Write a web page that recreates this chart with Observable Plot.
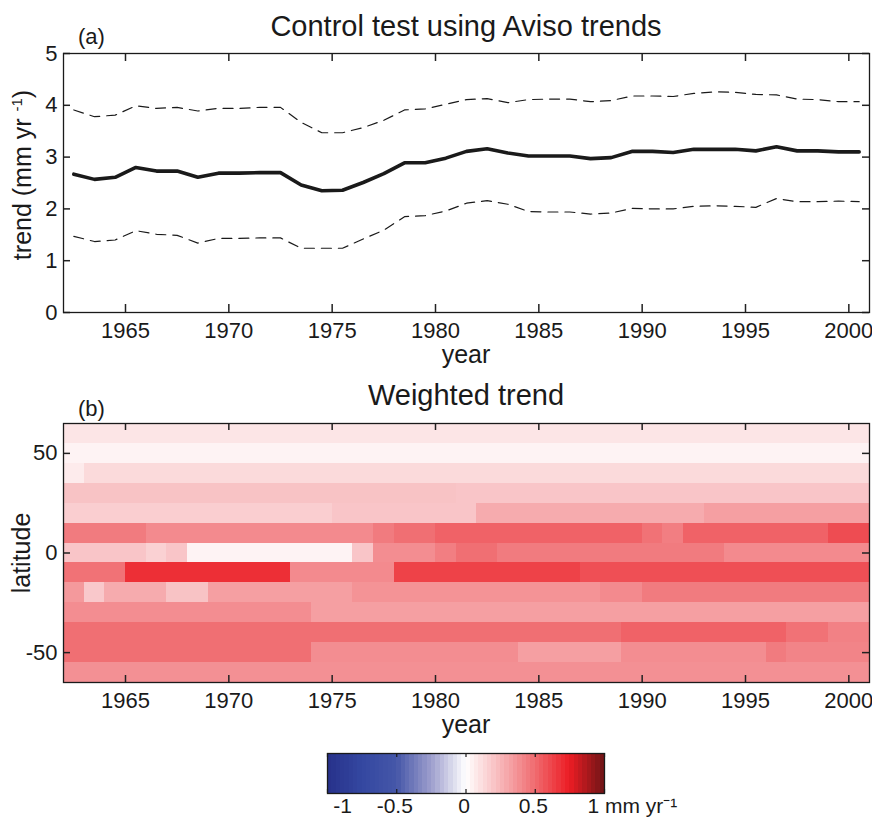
<!DOCTYPE html>
<html>
<head>
<meta charset="utf-8">
<script src="https://cdn.jsdelivr.net/npm/d3@7"></script>
<script src="https://cdn.jsdelivr.net/npm/@observablehq/plot@0.6"></script>
<style>
html, body { margin: 0; padding: 0; background: #fff; }
#root { position: relative; width: 872px; height: 818px; overflow: hidden; font-family: "Liberation Sans", Arial, Helvetica, sans-serif; }
#root svg { position: absolute; left: 0; }
</style>
</head>
<body>
<div id="root"></div>
<script>
// ---------------- DATA ----------------
const years = [1962,1963,1964,1965,1966,1967,1968,1969,1970,1971,
               1972,1973,1974,1975,1976,1977,1978,1979,1980,1981,
               1982,1983,1984,1985,1986,1987,1988,1989,1990,1991,
               1992,1993,1994,1995,1996,1997,1998,1999,2000];

// panel (a): trend (mm/yr) for each year, plus upper/lower bounds
const trendMean = [2.67,2.57,2.61,2.80,2.73,2.73,2.61,2.69,2.69,2.70,
                   2.70,2.46,2.35,2.36,2.51,2.68,2.89,2.89,2.98,3.11,
                   3.16,3.08,3.02,3.02,3.02,2.97,2.99,3.11,3.11,3.09,
                   3.15,3.15,3.15,3.12,3.20,3.12,3.12,3.10,3.10];
const trendUpper = [3.91,3.78,3.81,3.99,3.94,3.96,3.89,3.94,3.94,3.96,
                    3.96,3.67,3.47,3.47,3.57,3.71,3.91,3.93,4.02,4.11,
                    4.13,4.05,4.11,4.12,4.12,4.07,4.09,4.18,4.18,4.17,
                    4.23,4.26,4.25,4.21,4.20,4.12,4.11,4.07,4.07];
const trendLower = [1.47,1.37,1.40,1.58,1.51,1.49,1.34,1.43,1.43,1.44,
                    1.44,1.24,1.24,1.24,1.42,1.59,1.85,1.87,1.96,2.11,
                    2.16,2.09,1.95,1.94,1.94,1.90,1.92,2.01,2.00,2.00,
                    2.05,2.06,2.05,2.03,2.20,2.14,2.14,2.15,2.14];

// panel (b): weighted trend by 10-degree latitude band (mm/yr)
const latitudes = [60,50,40,30,20,10,0,-10,-20,-30,-40,-50,-60];
const lat60 = [0.09,0.09,0.09,0.09,0.09,0.09,0.09,0.09,0.09,0.09,
               0.09,0.09,0.09,0.09,0.09,0.09,0.09,0.09,0.09,0.09,
               0.09,0.09,0.09,0.09,0.09,0.09,0.09,0.09,0.09,0.09,
               0.09,0.09,0.09,0.09,0.09,0.09,0.09,0.09,0.09];
const lat50 = [0.04,0.04,0.04,0.04,0.04,0.04,0.04,0.04,0.04,0.04,
               0.04,0.04,0.04,0.04,0.04,0.04,0.04,0.04,0.04,0.04,
               0.04,0.04,0.04,0.04,0.04,0.04,0.04,0.04,0.04,0.04,
               0.04,0.04,0.04,0.04,0.04,0.04,0.04,0.04,0.04];
const lat40 = [0.07,0.13,0.13,0.13,0.13,0.13,0.13,0.13,0.13,0.13,
               0.13,0.13,0.13,0.13,0.13,0.13,0.13,0.13,0.13,0.13,
               0.13,0.13,0.13,0.13,0.13,0.13,0.13,0.13,0.13,0.13,
               0.13,0.13,0.13,0.13,0.13,0.13,0.13,0.13,0.13];
const lat30 = [0.21,0.21,0.21,0.21,0.21,0.21,0.21,0.21,0.21,0.21,
               0.21,0.21,0.21,0.21,0.21,0.21,0.21,0.21,0.21,0.20,
               0.20,0.20,0.20,0.20,0.20,0.20,0.20,0.20,0.20,0.20,
               0.20,0.20,0.20,0.20,0.20,0.20,0.20,0.20,0.20];
const lat20 = [0.17,0.17,0.17,0.17,0.17,0.17,0.17,0.17,0.17,0.17,
               0.17,0.17,0.17,0.20,0.20,0.20,0.20,0.20,0.20,0.20,
               0.29,0.29,0.29,0.29,0.29,0.29,0.29,0.29,0.29,0.29,
               0.29,0.33,0.33,0.33,0.33,0.33,0.33,0.33,0.33];
const lat10 = [0.45,0.45,0.45,0.45,0.40,0.40,0.40,0.40,0.40,0.40,
               0.40,0.40,0.40,0.40,0.40,0.45,0.49,0.49,0.53,0.53,
               0.53,0.53,0.53,0.53,0.53,0.53,0.53,0.53,0.48,0.44,
               0.53,0.53,0.53,0.53,0.53,0.53,0.53,0.60,0.60];
const lat0  = [0.20,0.20,0.20,0.20,0.16,0.20,0.04,0.04,0.04,0.04,
               0.04,0.04,0.04,0.04,0.20,0.39,0.39,0.39,0.44,0.49,
               0.49,0.45,0.45,0.45,0.45,0.45,0.45,0.45,0.45,0.45,
               0.45,0.45,0.40,0.40,0.40,0.40,0.40,0.40,0.40];
const latS10 = [0.48,0.48,0.48,0.69,0.69,0.69,0.69,0.69,0.69,0.69,
                0.69,0.40,0.40,0.40,0.40,0.40,0.63,0.63,0.63,0.63,
                0.63,0.63,0.63,0.63,0.63,0.59,0.59,0.59,0.59,0.59,
                0.59,0.59,0.59,0.59,0.59,0.59,0.59,0.59,0.59];
const latS20 = [0.35,0.19,0.29,0.29,0.29,0.21,0.21,0.33,0.33,0.33,
                0.33,0.33,0.33,0.33,0.37,0.37,0.37,0.37,0.37,0.37,
                0.37,0.37,0.37,0.37,0.37,0.37,0.40,0.40,0.45,0.45,
                0.45,0.45,0.45,0.45,0.45,0.45,0.45,0.45,0.45];
const latS30 = [0.39,0.39,0.39,0.39,0.39,0.39,0.39,0.39,0.39,0.39,
                0.39,0.39,0.33,0.33,0.33,0.33,0.33,0.33,0.33,0.33,
                0.33,0.33,0.33,0.33,0.33,0.33,0.33,0.33,0.33,0.33,
                0.33,0.33,0.33,0.33,0.33,0.33,0.33,0.33,0.33];
const latS40 = [0.49,0.49,0.49,0.49,0.49,0.49,0.49,0.49,0.49,0.49,
                0.49,0.49,0.49,0.49,0.49,0.49,0.49,0.49,0.49,0.49,
                0.49,0.49,0.49,0.49,0.49,0.49,0.49,0.53,0.53,0.53,
                0.53,0.53,0.53,0.53,0.53,0.48,0.48,0.43,0.43];
const latS50 = [0.49,0.49,0.49,0.49,0.49,0.49,0.49,0.49,0.49,0.49,
                0.49,0.49,0.39,0.39,0.39,0.39,0.39,0.39,0.39,0.39,
                0.39,0.39,0.33,0.33,0.33,0.33,0.33,0.39,0.39,0.39,
                0.39,0.39,0.39,0.39,0.45,0.42,0.42,0.42,0.42];
const latS60 = [0.38,0.38,0.38,0.38,0.38,0.38,0.38,0.38,0.38,0.38,
                0.38,0.38,0.38,0.38,0.38,0.38,0.38,0.38,0.38,0.38,
                0.38,0.38,0.38,0.38,0.38,0.38,0.38,0.38,0.38,0.38,
                0.38,0.38,0.38,0.38,0.38,0.38,0.38,0.38,0.38];
const bandRows = [lat60, lat50, lat40, lat30, lat20, lat10, lat0, latS10, latS20, latS30, latS40, latS50, latS60];

// ticks / labels
const yearTicks = [1965,1970,1975,1980,1985,1990,1995,2000];
const trendTicks = [0,1,2,3,4,5];
const latTicks = [-50,0,50];
const cbTicks = [-1,-0.5,0,0.5,1];
const cbLabels = ["-1","-0.5","0","0.5","1 mm yr\u207B\u00B9"];
const cmapColors = ["#27318a","#3447a0","#4557a8","#9d9ecd","#ffffff","#f7b7ba","#f06c70","#ec1c24","#6e1416"];

// ---------------- BUILD ----------------
const W = 872;
const FONT = '"Liberation Sans", Arial, Helvetica, sans-serif';
const INK = "#1a1a1a";
const TICK = "#222";
const mL = 63, mR = 3;
const plotW = W - mL - mR;
const colorScale = {type: "linear", domain: [-1, 1], interpolate: d3.piecewise(d3.interpolateRgb, cmapColors)};
const baseStyle = {fontFamily: FONT, fontSize: "22px", color: INK, background: "transparent", overflow: "visible"};
const root = document.getElementById("root");
function place(svg, top) { svg.style.top = top + "px"; root.appendChild(svg); }

const rowsA = years.map((y, i) => ({t: y + 0.5, mean: trendMean[i], hi: trendUpper[i], lo: trendLower[i]}));

// Panel (a)
const aH = 345, aMT = 53, aMB = 33, aPH = aH - aMT - aMB;
const chartA = Plot.plot({
  width: W, height: aH, marginLeft: mL, marginRight: mR, marginTop: aMT, marginBottom: aMB,
  style: baseStyle,
  x: {domain: [1962, 2001]},
  y: {domain: [0, 5]},
  marks: [
    Plot.line(rowsA, {x: "t", y: "hi", stroke: INK, strokeWidth: 1.2, strokeDasharray: "10,7"}),
    Plot.line(rowsA, {x: "t", y: "lo", stroke: INK, strokeWidth: 1.2, strokeDasharray: "10,7"}),
    Plot.line(rowsA, {x: "t", y: "mean", stroke: INK, strokeWidth: 3.6}),
    Plot.tickX(yearTicks, {x: d => d, insetTop: aPH - 8, stroke: TICK, strokeWidth: 1.5}),
    Plot.tickX(yearTicks, {x: d => d, insetBottom: aPH - 8, stroke: TICK, strokeWidth: 1.5}),
    Plot.tickY(trendTicks, {y: d => d, insetRight: plotW - 7, stroke: TICK, strokeWidth: 1.5}),
    Plot.tickY(trendTicks, {y: d => d, insetLeft: plotW - 7, stroke: TICK, strokeWidth: 1.5}),
    Plot.frame({stroke: INK, strokeWidth: 1.3}),
    Plot.axisX(yearTicks, {tickSize: 0, tickPadding: 10, tickFormat: d => String(d), fontSize: 22, label: null}),
    Plot.axisY(trendTicks, {tickSize: 0, tickPadding: 6, tickFormat: d => String(d), fontSize: 22, label: null})
  ]
});
place(chartA, 0);

// Panel (b)
const cells = [];
latitudes.forEach((lat, i) => years.forEach((y, j) => cells.push({year: y, lat, value: bandRows[i][j]})));
const bTop = 380, bH = 340, bMT = 43, bMB = 38, bPH = bH - bMT - bMB;
const chartB = Plot.plot({
  width: W, height: bH, marginLeft: mL, marginRight: mR, marginTop: bMT, marginBottom: bMB,
  style: baseStyle,
  x: {domain: [1962, 2001]},
  y: {domain: [-65, 65]},
  color: colorScale,
  marks: [
    Plot.rect(cells, {x1: "year", x2: d => d.year + 1, y1: d => d.lat - 5, y2: d => d.lat + 5, fill: "value", shapeRendering: "crispEdges"}),
    Plot.tickX(yearTicks, {x: d => d, insetTop: bPH - 7, stroke: TICK, strokeWidth: 1.5}),
    Plot.tickX(yearTicks, {x: d => d, insetBottom: bPH - 7, stroke: TICK, strokeWidth: 1.5}),
    Plot.tickY(latTicks, {y: d => d, insetRight: plotW - 7, stroke: TICK, strokeWidth: 1.5}),
    Plot.tickY(latTicks, {y: d => d, insetLeft: plotW - 7, stroke: TICK, strokeWidth: 1.5}),
    Plot.frame({stroke: INK, strokeWidth: 1.3}),
    Plot.axisX(yearTicks, {tickSize: 0, tickPadding: 10, tickFormat: d => String(d), fontSize: 22, label: null}),
    Plot.axisY(latTicks, {tickSize: 0, tickPadding: 6, tickFormat: d => String(d), fontSize: 22, label: null})
  ]
});
place(chartB, bTop);

// Colorbar
const nSteps = 64;
const cbSteps = d3.range(nSteps).map(i => -1 + i * 2 / nSteps);
const cbRows = cbTicks.map((v, i) => ({v, label: cbLabels[i]}));
const cTop = 745, cH = 73, cMT = 8, cMB = 25, cPH = cH - cMT - cMB;
const chartC = Plot.plot({
  width: W, height: cH, marginLeft: 327, marginRight: 268, marginTop: cMT, marginBottom: cMB,
  style: baseStyle,
  x: {domain: [-1, 1], axis: null},
  color: colorScale,
  marks: [
    Plot.rect(cbSteps, {x1: d => d, x2: d => d + 2 / nSteps, fill: d => d + 1 / nSteps, shapeRendering: "crispEdges"}),
    Plot.tickX(cbTicks, {x: d => d, insetTop: cPH - 4, stroke: INK, strokeWidth: 1.2}),
    Plot.tickX(cbTicks, {x: d => d, insetBottom: cPH - 4, stroke: INK, strokeWidth: 1.2}),
    Plot.frame({stroke: INK, strokeWidth: 1.3}),
    Plot.text(cbRows.slice(0, 1), {x: "v", text: "label", frameAnchor: "bottom", lineAnchor: "top", dy: 5, dx: 15, fontSize: 21, fill: INK}),
    Plot.text(cbRows.slice(1, 4), {x: "v", text: "label", frameAnchor: "bottom", lineAnchor: "top", dy: 5, dx: -2, fontSize: 21, fill: INK}),
    Plot.text(cbRows.slice(4), {x: "v", text: "label", frameAnchor: "bottom", lineAnchor: "top", textAnchor: "start", dy: 5, dx: -17, fontSize: 21, fill: INK})
  ]
});
place(chartC, cTop);

// Titles and axis labels (overlay)
const ov = d3.select(root).append("svg")
  .attr("width", W).attr("height", 818)
  .style("top", "0px").style("left", "0px").style("pointer-events", "none")
  .attr("font-family", FONT).attr("fill", INK);
ov.append("text").attr("x", 466).attr("y", 36).attr("text-anchor", "middle").attr("font-size", 29).text("Control test using Aviso trends");
ov.append("text").attr("x", 78).attr("y", 44).attr("font-size", 22).text("(a)");
ov.append("text").attr("x", 466).attr("y", 363).attr("text-anchor", "middle").attr("font-size", 25).text("year");
const yl = ov.append("text").attr("transform", "translate(31,175) rotate(-90)").attr("text-anchor", "middle").attr("font-size", 25);
yl.append("tspan").text("trend (mm yr ");
yl.append("tspan").attr("font-size", 15).attr("dy", -9).text("-1");
yl.append("tspan").attr("dy", 9).text(")");
ov.append("text").attr("x", 466).attr("y", 405).attr("text-anchor", "middle").attr("font-size", 29).text("Weighted trend");
ov.append("text").attr("x", 78).attr("y", 416).attr("font-size", 22).text("(b)");
ov.append("text").attr("x", 466).attr("y", 733).attr("text-anchor", "middle").attr("font-size", 25).text("year");
ov.append("text").attr("transform", "translate(30,553) rotate(-90)").attr("text-anchor", "middle").attr("font-size", 25).text("latitude");
</script>
</body>
</html>
